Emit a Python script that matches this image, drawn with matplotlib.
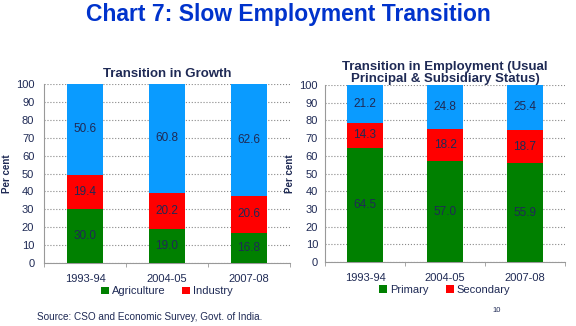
import numpy as np
import matplotlib.pyplot as plt

plt.rcParams['font.family'] = ['Liberation Sans', 'DejaVu Sans']

# Data
periods = ["1993-94", "2004-05", "2007-08"]

growth_agri = [30.0, 19.0, 16.8]
growth_ind = [19.4, 20.2, 20.6]
growth_serv = [50.6, 60.8, 62.6]

emp_primary = [64.5, 57.0, 55.9]
emp_secondary = [14.3, 18.2, 18.7]
emp_tertiary = [21.2, 24.8, 25.4]

GREEN = "#008000"
RED = "#FF0000"
BLUE = "#0A9BFF"
TXT = "#1F2A55"

W, H = 576, 326
fig = plt.figure(figsize=(W / 100, H / 100), dpi=100)
fig.patch.set_facecolor("white")


def px_axes(x0, y_top, x1, y_bot):
    return fig.add_axes([x0 / W, 1 - y_bot / H, (x1 - x0) / W, (y_bot - y_top) / H])


def stacked(ax, s1, s2, s3, names, title, ypad, tpad):
    x = np.arange(len(periods))
    bw = 0.45
    b1 = ax.bar(x, s1, bw, color=GREEN, label=names[0], zorder=3)
    b2 = ax.bar(x, s2, bw, bottom=s1, color=RED, label=names[1], zorder=3)
    bottom3 = np.array(s1) + np.array(s2)
    ax.bar(x, s3, bw, bottom=bottom3, color=BLUE, zorder=3)
    for i in range(len(x)):
        ax.text(x[i], s1[i] / 2, f"{s1[i]:.1f}", ha="center", va="center",
                fontsize=8.5, color=TXT, zorder=4)
        ax.text(x[i], s1[i] + s2[i] / 2, f"{s2[i]:.1f}", ha="center", va="center",
                fontsize=8.5, color=TXT, zorder=4)
        ax.text(x[i], bottom3[i] + s3[i] / 2, f"{s3[i]:.1f}", ha="center", va="center",
                fontsize=8.5, color=TXT, zorder=4)
    ax.set_xlim(-0.5, 2.5)
    ax.set_ylim(0, 100)
    ax.set_yticks(range(0, 101, 10))
    ax.set_xticks(x)
    ax.set_xticklabels(periods)
    ax.set_xticks([-0.5, 0.5, 1.5, 2.5], minor=True)
    ax.tick_params(axis="both", which="major", labelsize=8, colors=TXT, length=0)
    ax.tick_params(axis="y", pad=ypad)
    ax.tick_params(axis="x", pad=8)
    ax.tick_params(axis="x", which="minor", length=3, color="#999999")
    ax.yaxis.grid(True, linestyle=":", color="#888888", linewidth=0.8, zorder=0)
    for s in ["top", "right"]:
        ax.spines[s].set_visible(False)
    for s in ["left", "bottom"]:
        ax.spines[s].set_color("#999999")
        ax.spines[s].set_linewidth(0.8)
    ax.set_ylabel("Per cent", fontsize=7, color=TXT, fontweight="bold", labelpad=3)
    ax.set_title(title, fontsize=9.5, fontweight="bold", color=TXT, pad=tpad, linespacing=0.95)
    leg = ax.legend(handles=[b1, b2], loc="upper center", bbox_to_anchor=(0.5, -0.1),
                    ncol=2, frameon=False, fontsize=8, handlelength=0.7, handleheight=0.7,
                    handletextpad=0.3, columnspacing=1.5, borderpad=0)
    for t in leg.get_texts():
        t.set_color(TXT)


ax1 = px_axes(44, 84, 290, 263)
stacked(ax1, growth_agri, growth_ind, growth_serv, ["Agriculture", "Industry"],
        "Transition in Growth", 7, 5)

ax2 = px_axes(325, 85, 565, 262)
stacked(ax2, emp_primary, emp_secondary, emp_tertiary, ["Primary", "Secondary"],
        "Transition in Employment (Usual\nPrincipal & Subsidiary Status)", 5, 1.5)

fig.text(288 / W, 1 - 15 / H, "Chart 7: Slow Employment Transition", ha="center", va="center",
         fontsize=16.5, fontweight="bold", color="#0033CC")
fig.text(37 / W, 1 - 317 / H, "Source: CSO and Economic Survey, Govt. of India.",
         ha="left", va="center", fontsize=7.2, color=TXT)
fig.text(492 / W, 1 - 310 / H, "10", ha="left", va="center", fontsize=5.5, color=TXT)

fig.savefig("out.png", dpi=100)
